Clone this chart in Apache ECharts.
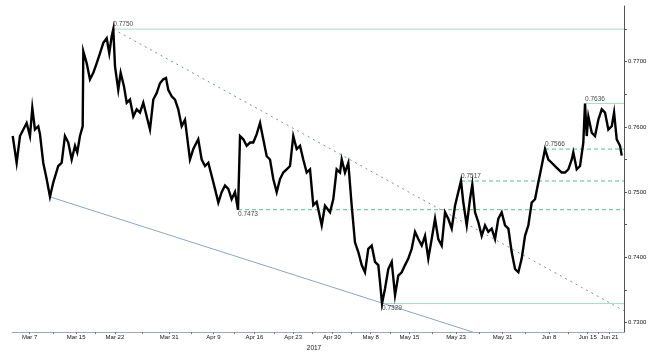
<!DOCTYPE html>
<html>
<head>
<meta charset="utf-8">
<script src="https://cdn.jsdelivr.net/npm/echarts@6/dist/echarts.min.js"></script>
<style>html,body{margin:0;padding:0;background:#fff;}#c{width:653px;height:357px;}</style>
</head>
<body>
<div id="c"></div>
<script>
// Time in trading days since Mar 7 2017 (00:00)
const days = [-2.19,-1.68,-1.25,-0.39,0.04,0.34,0.68,1.11,1.33,1.75,2.19,2.62,3.05,3.69,4.13,4.55,4.98,5.42,5.85,6.14,6.49,6.84,6.92,7.35,7.78,8.21,8.65,9.07,9.50,9.94,10.27,10.58,10.79,11.01,11.43,11.74,12.17,12.52,12.94,13.37,13.81,14.23,14.66,15.10,15.52,15.95,16.39,16.81,17.24,17.59,17.88,18.32,18.75,19.17,19.61,20.04,20.46,20.68,21.11,21.75,22.19,22.62,23.05,23.48,23.91,24.34,24.77,25.20,25.63,26.06,26.49,26.88,27.14,27.56,28.00,28.43,28.85,29.29,29.72,30.14,30.58,31.01,31.43,31.87,32.30,32.72,33.16,33.59,34.01,34.45,34.88,35.30,35.74,36.17,36.59,37.03,37.68,38.10,38.75,39.17,39.61,40.04,40.26,40.68,41.11,41.55,41.97,42.40,42.84,43.26,43.69,44.13,44.55,44.98,45.20,45.46,45.85,46.27,46.71,47.14,47.56,48.00,48.43,48.85,49.29,49.72,50.14,50.58,51.01,51.43,51.87,52.30,52.72,53.16,53.59,54.01,54.45,54.88,55.30,55.65,55.95,56.39,56.81,57.11,57.46,57.88,58.32,58.75,59.17,59.61,60.04,60.46,60.90,61.33,61.76,62.19,62.62,63.05,63.48,63.91,64.34,64.77,65.20,65.63,66.06,66.49,66.92,67.35,67.78,68.21,68.65,69.07,69.50,69.94,70.14,70.58,71.01,71.43,71.65,71.87,72.08,72.52,72.94,73.37,73.81,74.23,74.66,75.10,75.40,75.74,76.17,76.39];
const prices = [0.7586,0.7545,0.7586,0.7606,0.7586,0.7629,0.7596,0.7601,0.7589,0.7545,0.7520,0.7493,0.7515,0.7540,0.7545,0.7586,0.7576,0.7550,0.7571,0.7561,0.7586,0.7601,0.7716,0.7698,0.7673,0.7683,0.7698,0.7713,0.7729,0.7736,0.7713,0.7739,0.7750,0.7693,0.7657,0.7683,0.7662,0.7637,0.7642,0.7616,0.7627,0.7622,0.7637,0.7616,0.7596,0.7642,0.7652,0.7667,0.7673,0.7675,0.7657,0.7647,0.7642,0.7627,0.7601,0.7611,0.7571,0.7550,0.7566,0.7581,0.7550,0.7540,0.7545,0.7525,0.7505,0.7484,0.7500,0.7510,0.7505,0.7489,0.7500,0.7473,0.7586,0.7581,0.7571,0.7576,0.7576,0.7589,0.7606,0.7581,0.7555,0.7550,0.7520,0.7500,0.7520,0.7530,0.7535,0.7540,0.7586,0.7566,0.7571,0.7550,0.7530,0.7535,0.7480,0.7485,0.7449,0.7479,0.7469,0.7489,0.7535,0.7530,0.7550,0.7530,0.7545,0.7479,0.7423,0.7408,0.7388,0.7377,0.7413,0.7418,0.7393,0.7388,0.7362,0.7329,0.7352,0.7382,0.7393,0.7342,0.7372,0.7377,0.7388,0.7398,0.7413,0.7439,0.7428,0.7418,0.7433,0.7398,0.7428,0.7459,0.7428,0.7418,0.7469,0.7459,0.7444,0.7479,0.7500,0.7517,0.7484,0.7449,0.7489,0.7512,0.7469,0.7454,0.7433,0.7449,0.7439,0.7444,0.7428,0.7459,0.7469,0.7449,0.7444,0.7408,0.7382,0.7377,0.7398,0.7433,0.7449,0.7484,0.7489,0.7515,0.7540,0.7566,0.7550,0.7545,0.7540,0.7535,0.7530,0.7530,0.7535,0.7550,0.7561,0.7535,0.7540,0.7576,0.7636,0.7586,0.7616,0.7591,0.7586,0.7611,0.7627,0.7622,0.7596,0.7601,0.7622,0.7581,0.7571,0.7556];

// x-axis date labels (trading-day positions)
const tickDays  = [0, 6, 11, 18, 23.7, 29, 34, 39, 44, 49, 55, 61, 67, 72, 74.8];
const tickTexts = ['Mar 7','Mar 15','Mar 22','Mar 31','Apr 9','Apr 16','Apr 23','Apr 30','May 8','May 15','May 23','May 31','Jun 8','Jun 15','Jun 21'];
const yearLabel = '2017';

// y-axis ticks
const yLabels = [0.7300, 0.7400, 0.7500, 0.7600, 0.7700];
const yTicks  = [0.7300, 0.7350, 0.7400, 0.7450, 0.7500, 0.7550, 0.7600, 0.7650, 0.7700, 0.7750];

// horizontal levels
const levelStart = [10.79, 26.88, 45.46, 55.65, 66.49, 71.65];
const levelValue = [0.7750, 0.7473, 0.7329, 0.7517, 0.7566, 0.7636];
const levelSolid = [true, false, true, false, false, true];
const levelLabelPos = ['top', 'bottom', 'bottom', 'top', 'top', 'top'];

// trend lines
const resistDays = [10.79, 76.68];
const resistVals = [0.7750, 0.7318];
const supportDays = [2.53, 57.24];
const supportVals = [0.7493, 0.7285];

const xMin = -2.28, xMax = 76.68;
const yMin = 0.72852, yMax = 0.77855;

const chart = echarts.init(document.getElementById('c'), null, {renderer: 'canvas'});
const FONT = 'Liberation Sans';

const series = [];
levelValue.forEach((v, i) => {
  series.push({
    type: 'line', silent: true, symbol: 'none', z: 2,
    data: [[levelStart[i], v], [xMax, v]],
    lineStyle: levelSolid[i] ? {color: '#a6dcbf', width: 1} : {color: '#55c284', width: 1, type: [4, 3]}
  });
});
series.push({
  type: 'line', silent: true, symbol: 'none', z: 2,
  data: resistDays.map((d, i) => [d, resistVals[i]]),
  lineStyle: {color: '#7d90ab', width: 1, type: [2, 4]}
});
series.push({
  type: 'line', silent: true, symbol: 'none', z: 2,
  data: supportDays.map((d, i) => [d, supportVals[i]]),
  lineStyle: {color: '#8ea4c6', width: 1}
});
const lastPrice = prices[prices.length - 1];
series.push({
  type: 'line', symbol: 'none', z: 5,
  data: days.map((d, i) => [d, prices[i]]),
  lineStyle: {color: '#000', width: 2.4, join: 'miter'},
  markLine: {
    silent: true, symbol: 'none',
    lineStyle: {opacity: 0},
    label: {
      position: 'end', distance: 2, formatter: lastPrice.toFixed(4),
      color: '#fff', backgroundColor: '#000', fontFamily: FONT, fontSize: 6.5, fontWeight: 'bold',
      padding: [1, 1, 1, 1]
    },
    data: [[{coord: [days[days.length - 1], lastPrice]}, {coord: [xMax, lastPrice]}]]
  }
});
series.push({
  type: 'scatter', symbolSize: 0, z: 6, silent: true,
  data: levelValue.map((v, i) => ({
    value: [levelStart[i], v],
    label: {show: true, position: levelLabelPos[i], distance: 1, align: 'left',
      formatter: v.toFixed(4), color: '#111', fontFamily: FONT, fontSize: 6.5}
  }))
});

chart.setOption({
  animation: false,
  backgroundColor: '#fff',
  grid: {left: 12, right: 29, top: 6, bottom: 23.3, containLabel: false},
  xAxis: {
    type: 'value', min: xMin, max: xMax,
    name: yearLabel, nameLocation: 'middle', nameGap: 8,
    nameTextStyle: {fontFamily: FONT, fontSize: 6.5, color: '#111', padding: [0, 8, 0, 0]},
    axisLine: {show: true, onZero: false, lineStyle: {color: '#9aaabd', width: 1}},
    axisTick: {show: true, length: 2, customValues: tickDays.concat(tickDays.slice(0, -1).map((d, i) => (d + tickDays[i + 1]) / 2)), lineStyle: {color: '#777'}},
    axisLabel: {
      customValues: tickDays, margin: 2, fontFamily: FONT, fontSize: 6, color: '#111',
      formatter: (val) => {
        let best = 0;
        tickDays.forEach((d, i) => { if (Math.abs(d - val) < Math.abs(tickDays[best] - val)) best = i; });
        return tickTexts[best];
      }
    },
    splitLine: {show: false}
  },
  yAxis: {
    type: 'value', position: 'right', min: yMin, max: yMax, scale: true,
    axisLine: {show: true, onZero: false, lineStyle: {color: '#555', width: 1}},
    axisTick: {show: true, length: 3, customValues: yTicks, lineStyle: {color: '#555'}},
    axisLabel: {customValues: yLabels, margin: 4, fontFamily: FONT, fontSize: 6, color: '#111',
      formatter: (v) => v.toFixed(4)},
    splitLine: {show: false}
  },
  series: series
});
</script>
</body>
</html>
